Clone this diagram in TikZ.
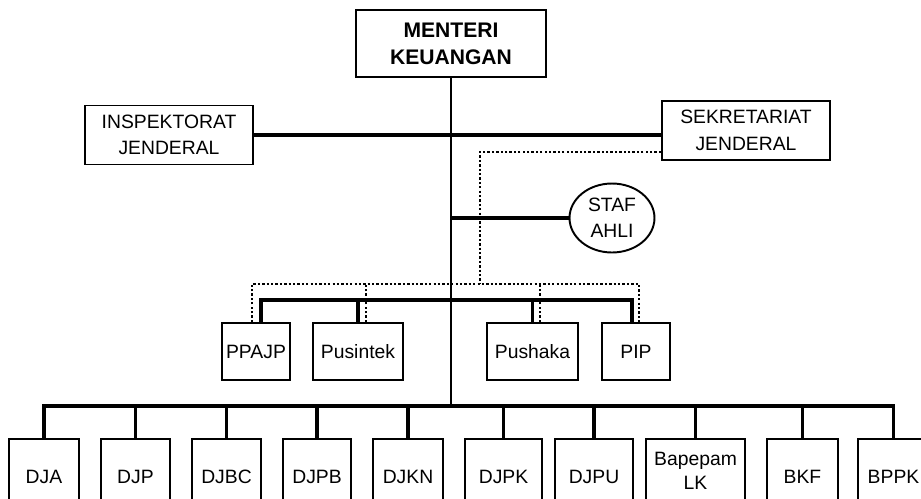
\documentclass[tikz,border=0pt]{standalone}
\usepackage{fontspec}
\setmainfont{Liberation Sans}
\usetikzlibrary{shapes.geometric}
\begin{document}
\begin{tikzpicture}[x=0.02cm,y=-0.02cm,
    unit/.style={shape=rectangle,draw,line width=1.1pt,inner sep=0pt,align=center,font=\fontsize{11}{15}\selectfont},
    dirjen/.style={unit,minimum height=1.52cm},
    link/.style={line width=1.9pt},
    staff/.style={line width=1.5pt,dash pattern=on 1.3pt off 1.2pt}]
\useasboundingbox (0,0) rectangle (921,498);
\clip (0,0) rectangle (921,498);
%%%% Add nodes for the top level
    \node[unit,minimum width=3.8cm,minimum height=1.34cm,font=\fontsize{12}{15.5}\selectfont\bfseries] (mk) at (451,43.5) {MENTERI\\KEUANGAN};
    \node[unit,minimum width=3.36cm,minimum height=1.18cm] (ij) at (169,135) {INSPEKTORAT\\JENDERAL};
    \node[unit,minimum width=3.36cm,minimum height=1.18cm] (sj) at (746,130.5) {SEKRETARIAT\\JENDERAL};
    \node[shape=ellipse,draw,line width=1.1pt,inner sep=0pt,minimum width=1.7cm,minimum height=1.38cm,align=center,font=\fontsize{11}{15}\selectfont] (ahli) at (612,218) {STAF\\AHLI};
%%%% Add nodes for the centres
    \node[unit,minimum width=1.36cm,minimum height=1.14cm] (ppajp) at (256,351.5) {PPAJP};
    \node[unit,minimum width=1.8cm,minimum height=1.14cm] (pusintek) at (358,351.5) {Pusintek};
    \node[unit,minimum width=1.82cm,minimum height=1.14cm] (pushaka) at (532.5,351.5) {Pushaka};
    \node[unit,minimum width=1.36cm,minimum height=1.14cm] (pip) at (636,351.5) {PIP};
%%%% Add nodes for the bottom row
    \node[dirjen,minimum width=1.4cm] (dja) at (44,477) {DJA};
    \node[dirjen,minimum width=1.38cm] (djp) at (135.5,477) {DJP};
    \node[dirjen,minimum width=1.38cm] (djbc) at (226.5,477) {DJBC};
    \node[dirjen,minimum width=1.36cm] (djpb) at (317,477) {DJPB};
    \node[dirjen,minimum width=1.4cm] (djkn) at (408,477) {DJKN};
    \node[dirjen,minimum width=1.54cm] (djpk) at (503.5,477) {DJPK};
    \node[dirjen,minimum width=1.56cm] (djpu) at (594,477) {DJPU};
    \node[unit,minimum width=1.98cm,minimum height=1.26cm,font=\fontsize{11}{13.5}\selectfont] (bapepam) at (695.5,470.5) {Bapepam\\LK};
    \node[dirjen,minimum width=1.42cm] (bkf) at (802.5,477) {BKF};
    \node[dirjen,minimum width=1.42cm] (bppk) at (893.5,477) {BPPK};
%%%% Add points where the lines split
    \coordinate (sd) at (480,152);
    \coordinate (barD) at (480,284);
    \coordinate (barM) at (451,300);
    \coordinate (barB) at (451,406);
%%%% Add solid lines
    \draw[link,line width=1.5pt] (mk.south) -- (mk.south |- barB);
    \draw[link] (ij.east) -- (ij.east -| sj.west);
    \draw[link] (ahli.west -| mk.south) -- (ahli.west);
    \draw[link] ([xshift=0.1cm]ppajp.north) |- ([xshift=-0.08cm]pip.north |- barM) -- ([xshift=-0.08cm]pip.north);
    \foreach \n in {pusintek,pushaka}
        \draw[link] (\n.north) -- (\n.north |- barM);
    \draw[link] (dja.north) |- (bppk.north |- barB) -- (bppk.north);
    \foreach \n in {djp,djbc,djpb,djkn,djpk,djpu,bapepam,bkf}
        \draw[link] (\n.north) -- (\n.north |- barB);
%%%% Add dotted lines from the secretariat
    \draw[staff] (sj.west |- sd) -| (barD);
    \draw[staff] ([xshift=-0.08cm]ppajp.north) |- ([xshift=0.06cm]pip.north |- barD) -- ([xshift=0.06cm]pip.north);
    \draw[staff] ([xshift=0.16cm]pusintek.north) -- ([xshift=0.16cm]pusintek.north |- barD);
    \draw[staff] ([xshift=0.15cm]pushaka.north) -- ([xshift=0.15cm]pushaka.north |- barD);
\end{tikzpicture}
\end{document}
